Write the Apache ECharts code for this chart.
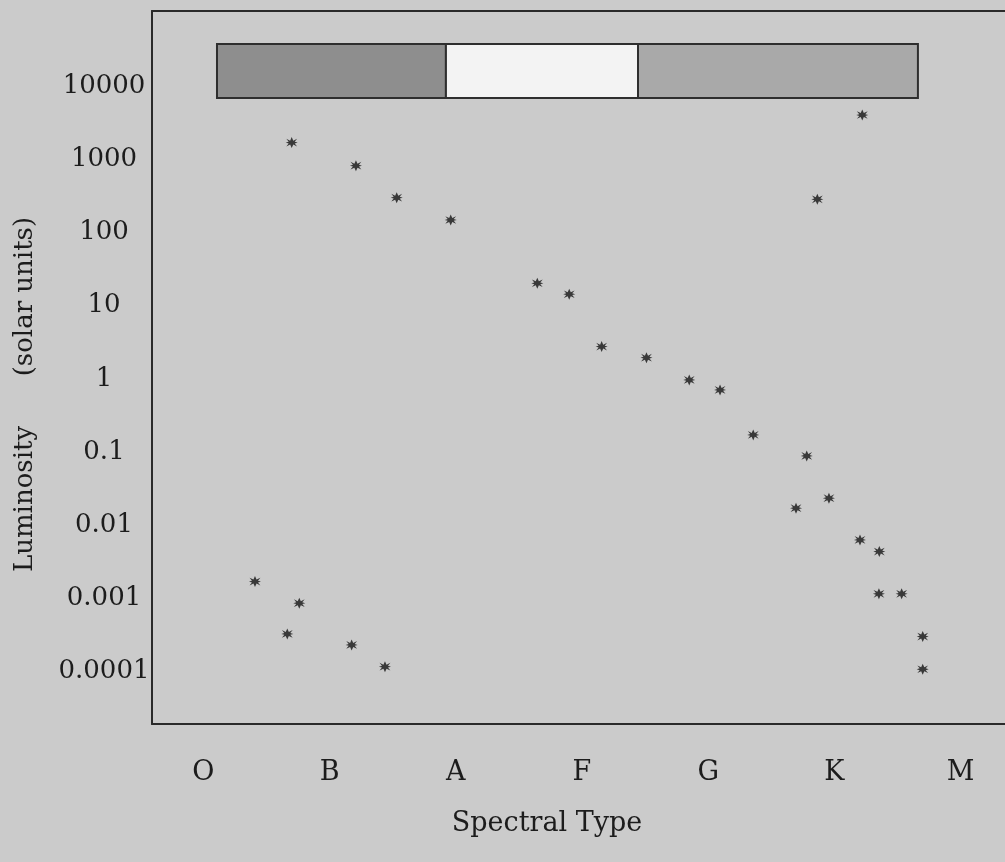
<!DOCTYPE html>
<html>
<head>
<meta charset="utf-8">
<script src="https://cdn.jsdelivr.net/npm/echarts@6/dist/echarts.min.js"></script>
<style>
  html, body { margin: 0; padding: 0; background: #cbcbcb; }
  #chart { width: 1005px; height: 862px; }
</style>
</head>
<body>
<div id="chart"></div>
<script>
// Spectral classes (tick labels of the x axis), evenly spaced at positions 0..6
const spectralClasses = ['O', 'B', 'A', 'F', 'G', 'K', 'M'];
const spectralPositions = [0, 1, 2, 3, 4, 5, 6];

// Luminosity tick labels (log axis)
const yTickExponents = [-4, -3, -2, -1, 0, 1, 2, 3, 4];
const yTickLabels = ['0.0001', '0.001', '0.01', '0.1', '1', '10', '100', '1000', '10000'];

// Stars: spectral position (O=0 ... M=6) and luminosity (solar units)
const starClass = [0.700, 1.209, 1.532, 1.960, 2.646, 2.899, 3.156, 3.511, 3.850, 4.094,
                   4.357, 4.781, 4.696, 4.957, 5.203, 5.356, 5.353, 5.533, 5.700, 5.700,
                   5.221, 4.865,
                   0.409, 0.760, 0.665, 1.175, 1.439];
const starLum   = [1690, 817, 299, 148, 20.2, 14.3, 2.75, 1.94, 0.963, 0.703,
                   0.171, 0.0881, 0.0170, 0.0233, 0.00627, 0.00434, 0.00115, 0.00115, 0.000299, 0.000107,
                   4030, 284,
                   0.00169, 0.000855, 0.000325, 0.000230, 0.000116];

// Colour band at the top: edges in spectral position, luminosity range
const bandEdges = [0.108, 1.922, 3.444, 5.662];
const bandColors = ['#8e8e8e', '#f3f3f3', '#a9a9a9'];
const bandLum = [6880, 37650];

const chart = echarts.init(document.getElementById('chart'), null, { renderer: 'canvas' });

const serif = 'DejaVu Serif';
const ink = '#1c1c1c';
const frameLine = { show: true, onZero: false, lineStyle: { color: '#2a2a2a', width: 2 } };
const points = starClass.map((x, i) => [x, starLum[i]]);

const bandAreas = bandColors.map((c, i) => [
  { xAxis: bandEdges[i], yAxis: bandLum[1], itemStyle: { color: c, borderColor: '#2e2e2e', borderWidth: 2 } },
  { xAxis: bandEdges[i + 1], yAxis: bandLum[0] }
]);

const asterisk = 'path://M5,0 L6.3,3.2 L9.5,1.5 L7.5,4.2 L10,5 L7.5,5.8 L9.5,8.5 L6.3,6.8 L5,10 L3.7,6.8 L0.5,8.5 L2.5,5.8 L0,5 L2.5,4.2 L0.5,1.5 L3.7,3.2 Z';

chart.setOption({
  backgroundColor: '#cbcbcb',
  animation: false,
  grid: { left: 152, top: 11, bottom: 138, right: 0 },
  xAxis: [{
    type: 'value',
    min: -0.407, max: 6.352,
    axisLine: frameLine,
    axisTick: { show: false },
    splitLine: { show: false },
    axisLabel: {
      customValues: spectralPositions,
      formatter: v => spectralClasses[Math.round(v)] || '',
      fontFamily: serif, fontSize: 27, color: ink, margin: 35
    },
    name: 'Spectral Type',
    nameLocation: 'middle',
    nameGap: 86,
    nameTextStyle: { fontFamily: serif, fontSize: 27, color: ink, padding: [0, 63, 0, 0] }
  }, {
    type: 'value',
    position: 'top',
    min: -0.407, max: 6.352,
    axisLine: frameLine,
    axisTick: { show: false },
    axisLabel: { show: false },
    splitLine: { show: false }
  }],
  yAxis: {
    type: 'log',
    logBase: 10,
    min: 1.91e-5, max: 1.064e5,
    axisLine: frameLine,
    axisTick: { show: false },
    splitLine: { show: false },
    axisLabel: {
      showMinLabel: false, showMaxLabel: false,
      formatter: v => {
        const e = Math.log10(v);
        const k = Math.round(e);
        if (Math.abs(e - k) > 1e-6) return '';
        const i = yTickExponents.indexOf(k);
        return i >= 0 ? yTickLabels[i] : '';
      },
      align: 'center', margin: 48,
      fontFamily: serif, fontSize: 26, color: ink
    },
    name: 'Luminosity      (solar units)',
    nameLocation: 'middle',
    nameGap: 114,
    nameRotate: 90,
    nameTextStyle: { fontFamily: serif, fontSize: 26, color: ink, padding: [0, 54, 0, 0] }
  },
  series: [{
    type: 'scatter',
    xAxisIndex: 0,
    data: points,
    symbol: asterisk,
    symbolSize: [12, 11],
    itemStyle: { color: '#141414' },
    z: 5,
    markArea: {
      silent: true,
      data: bandAreas
    }
  }]
});
</script>
</body>
</html>
